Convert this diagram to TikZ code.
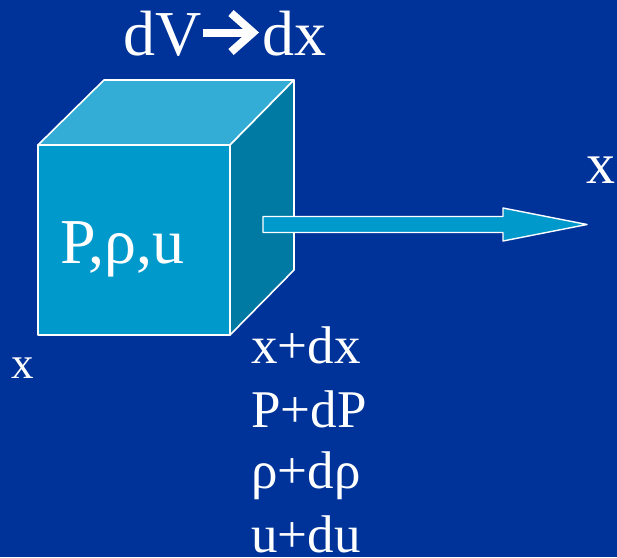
\documentclass[tikz,border=0pt]{standalone}
\usepackage{fontspec}
\setmainfont{Liberation Serif}
\usepackage{xcolor}
\usepackage{tikz}
\usetikzlibrary{positioning,calc}
\definecolor{slBack}  {RGB}{  0, 51,153}
\definecolor{slFront} {RGB}{  0,153,204}
\definecolor{slTop}   {RGB}{ 51,173,214}
\definecolor{slSide}  {RGB}{  0,122,163}

\begin{document}
\begin{tikzpicture}[x=1pt,y=-1pt,
  face/.style ={draw=white,line width=1.6pt,line join=round},
  label/.style={text=white,inner sep=0pt,anchor=base west},
  bigtxt/.style={font=\fontsize{64}{64}\selectfont},
  listtxt/.style={font=\fontsize{53}{53}\selectfont}
]
\fill[slBack] (0,0) rectangle (617,557);
\useasboundingbox (0,0) rectangle (617,557);

% cube corners
\coordinate (fa) at (38,145);
\coordinate (fb) at (230,145);
\coordinate (fc) at (230,335);
\coordinate (fd) at (38,335);
\coordinate (ta) at (104,80);
\coordinate (tb) at (294,80);
\coordinate (sb) at (294,270);

\filldraw[face,fill=slTop]   (fa) -- (ta) -- (tb) -- (fb) -- cycle;
\filldraw[face,fill=slSide]  (fb) -- (tb) -- (sb) -- (fc) -- cycle;
\filldraw[face,fill=slFront] (fa) -- (fb) -- (fc) -- (fd) -- cycle;

% flow arrow
\coordinate (tail) at (263,224.5);
\coordinate (tip)  at (587,224.5);
\filldraw[face,fill=slFront,line width=1.4pt]
  ($(tail)+(0,-8)$) -- (503,216.5) -- (503,208) -- (tip)
  -- (503,241) -- (503,232.5) -- ($(tail)+(0,8)$) -- cycle;

% title dV -> dx
\node[label,bigtxt] (dv) at (123,55) {dV};
\node[label,bigtxt] (dx) at (262,55) {dx};
\coordinate (ahead) at (253,32.5);
\draw[white,line width=8pt] (dv.east |- ahead) ++(1,0) -- (ahead);
\draw[white,line width=8pt,miter limit=4]
  (231,13) -- (ahead) -- (231,52);

\node[label,bigtxt] (state) at (60,263) {P,ρ,u};
\node[label,font=\fontsize{58}{58}\selectfont] (xaxis) at (586,183) {x};
\node[label,font=\fontsize{45}{45}\selectfont] (xleft) at (11,378) {x};

\node[label,listtxt] (l1) at (251,363) {x+dx};
\node[label,listtxt] (l2) at (251,427) {P+dP};
\node[label,listtxt] (l3) at (251,488) {ρ+dρ};
\node[label,listtxt] (l4) at (251,552) {u+du};
\end{tikzpicture}
\end{document}
